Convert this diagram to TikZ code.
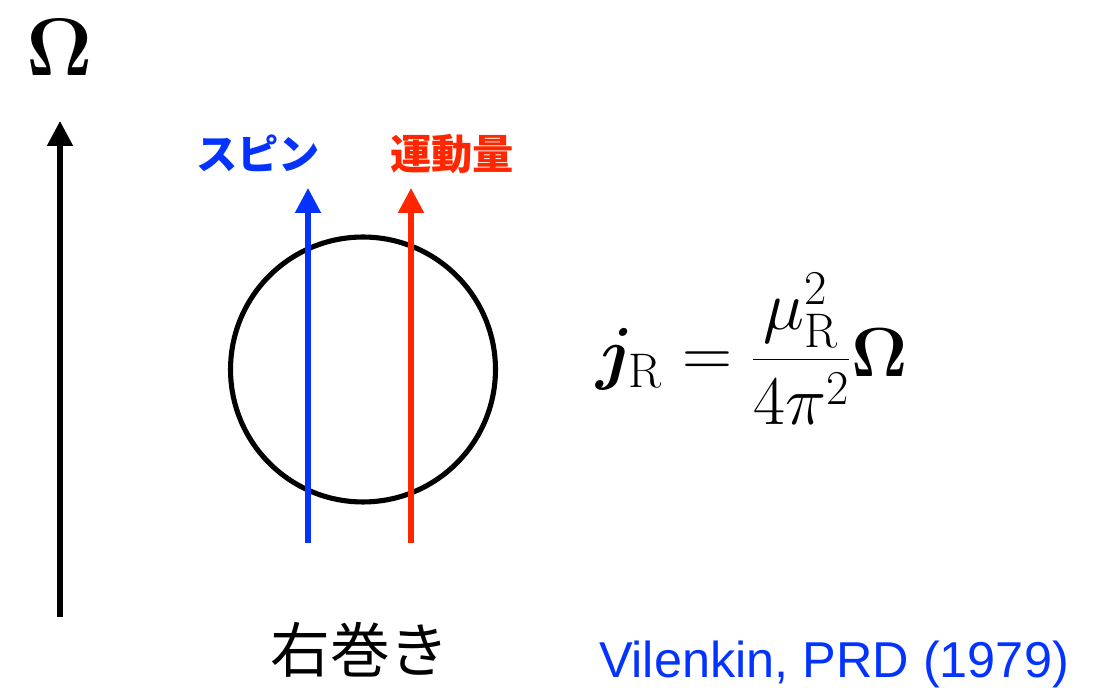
\RequirePackage{fix-cm}
\documentclass[tikz,border=0pt]{standalone}
\usepackage{xcolor}
\usepackage{tikz}
\usepackage{amsmath}
\usepackage{bm}
\usepackage{fontspec}
\newfontfamily\jpfont{Noto Sans CJK JP}
\newfontfamily\reffont{Liberation Sans}
\usetikzlibrary{positioning,arrows.meta,calc}
\definecolor{spinblue}{RGB}{4,51,255}
\definecolor{momred}{RGB}{255,38,0}

\begin{document}
\begin{tikzpicture}[x=0.02cm, y=-0.02cm, vec/.style={line width=2.9pt, -{Triangle[width=0.5cm,length=0.5cm]}}]
    \useasboundingbox (0,0) rectangle (1099,688);

    \node[font=\fontsize{46.5}{46.5}\selectfont] (omega) at (60,47) {$\boldsymbol{\Omega}$};
    \coordinate (axisbot) at (60,617);
    \coordinate (axistop) at (60,121);
    \draw[vec, black] (axisbot) -- (axistop);

    \node[draw, circle, line width=2.9pt, minimum size=5.3cm, inner sep=0pt] (ball) at (363,369.5) {};

    \coordinate (spinbot) at (308,543);
    \coordinate (spintop) at (308,188);
    \coordinate (mombot) at (411,543);
    \coordinate (momtop) at (411,188);
    \draw[vec, spinblue] (spinbot) -- (spintop);
    \draw[vec, momred] (mombot) -- (momtop);

    \node[font=\jpfont\bfseries\fontsize{23.5}{23.5}\selectfont, text=spinblue] (spin) at (258,153) {スピン};
    \node[font=\jpfont\bfseries\fontsize{23.5}{23.5}\selectfont, text=momred] (mom) at (452,154) {運動量};

    \node[font=\jpfont\fontsize{34}{34}\selectfont] (hand) at (360,650) {右巻き};

    \node[font=\fontsize{39.5}{39.5}\selectfont] (formula) at (752,349)
        {$\displaystyle \boldsymbol{j}_{\mathrm{R}} = \frac{\mu_{\mathrm{R}}^2}{4\pi^2}\boldsymbol{\Omega}$};

    \node[font=\reffont\fontsize{28.7}{28.7}\selectfont, text=spinblue, anchor=base] (cite) at (834,678) {Vilenkin, PRD (1979)};
\end{tikzpicture}
\end{document}
